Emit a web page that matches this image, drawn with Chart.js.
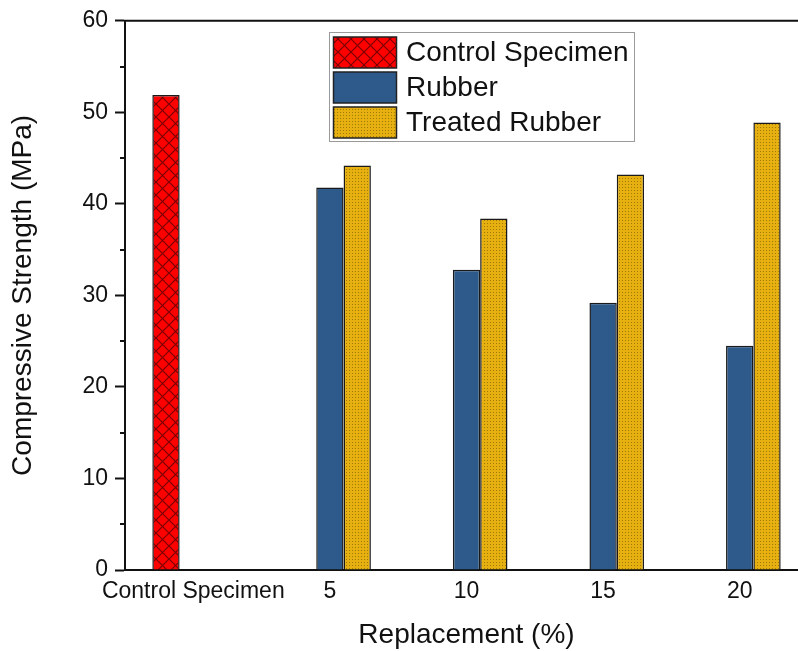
<!DOCTYPE html>
<html>
<head>
<meta charset="utf-8">
<script src="https://cdn.jsdelivr.net/npm/chart.js@4/dist/chart.umd.min.js"></script>
<style>
  html, body { margin: 0; padding: 0; background: #fff; overflow: hidden; }
  #wrap { position: relative; width: 812px; height: 651px; }
</style>
</head>
<body>
<div id="wrap"><canvas id="chart"></canvas></div>
<script>
// Compressive strength by rubber replacement level
const categories = ['Control Specimen', '5', '10', '15', '20'];
const controlStrength = [51.9, null, null, null, null];
const rubberStrength = [null, 41.8, 32.8, 29.2, 24.5];
const treatedStrength = [null, 44.2, 38.4, 43.2, 48.9];
const seriesLabels = ['Control Specimen', 'Rubber', 'Treated Rubber'];

const FONT = "'Liberation Sans', Arial, sans-serif";
const INK = '#111';

// Red fill with a diagonal cross-hatch
function crossHatch() {
  const s = 13;
  const c = document.createElement('canvas');
  c.width = s; c.height = s;
  const g = c.getContext('2d');
  g.fillStyle = '#ff0000';
  g.fillRect(0, 0, s, s);
  g.strokeStyle = '#7a0000';
  g.lineWidth = 1.2;
  g.beginPath();
  g.moveTo(0, 0); g.lineTo(s, s);
  g.moveTo(s, 0); g.lineTo(0, s);
  g.stroke();
  return g.createPattern(c, 'repeat');
}

// Gold fill with a fine dot texture
function dotTexture() {
  const c = document.createElement('canvas');
  c.width = 3; c.height = 3;
  const g = c.getContext('2d');
  g.fillStyle = '#e6b010';
  g.fillRect(0, 0, 3, 3);
  g.fillStyle = '#a07a08';
  g.fillRect(1, 1, 1, 1);
  return g.createPattern(c, 'repeat');
}

const fills = [crossHatch(), '#2d5a8b', dotTexture()];

// Short unlabeled ticks halfway between the labeled ones, plus the top frame line
const framePlugin = {
  id: 'frame',
  afterDraw(chart) {
    const { ctx, chartArea, scales } = chart;
    const y = scales.y;
    ctx.save();
    ctx.strokeStyle = INK;
    ctx.lineWidth = 2;
    ctx.beginPath();
    for (let v = y.min + 5; v < y.max; v += 10) {
      const py = Math.round(y.getPixelForValue(v));
      ctx.moveTo(chartArea.left - 5, py);
      ctx.lineTo(chartArea.left, py);
    }
    ctx.moveTo(chartArea.left - 1, chartArea.top);
    ctx.lineTo(chart.width, chartArea.top);
    ctx.stroke();
    ctx.restore();
  }
};

// Boxed legend inside the plot
const legendBoxPlugin = {
  id: 'legendBox',
  afterDraw(chart) {
    const { ctx } = chart;
    const box = { x: 329.5, y: 32.5, w: 305, h: 109 };
    ctx.save();
    ctx.fillStyle = '#fff';
    ctx.fillRect(box.x, box.y, box.w, box.h);
    ctx.strokeStyle = '#9a9a9a';
    ctx.lineWidth = 1;
    ctx.strokeRect(box.x, box.y, box.w, box.h);
    ctx.font = '28px ' + FONT;
    ctx.textBaseline = 'middle';
    ctx.textAlign = 'left';
    chart.data.datasets.forEach((ds, i) => {
      const sy = 37 + i * 35;
      ctx.fillStyle = ds.backgroundColor;
      ctx.fillRect(333.5, sy, 63, 31);
      ctx.strokeStyle = '#222';
      ctx.lineWidth = 1.5;
      ctx.strokeRect(333.5, sy, 63, 31);
      ctx.fillStyle = INK;
      ctx.fillText(ds.label, 406, sy + 16);
    });
    ctx.restore();
  }
};

new Chart(document.getElementById('chart'), {
  type: 'bar',
  data: {
    labels: categories,
    datasets: [
      { label: seriesLabels[0], data: controlStrength, backgroundColor: fills[0] },
      { label: seriesLabels[1], data: rubberStrength, backgroundColor: fills[1] },
      { label: seriesLabels[2], data: treatedStrength, backgroundColor: fills[2] }
    ]
  },
  options: {
    responsive: true,
    maintainAspectRatio: false,
    animation: false,
    devicePixelRatio: 1,
    layout: { padding: { top: 20, right: 4, bottom: 0, left: 0 } },
    datasets: {
      bar: {
        categoryPercentage: 0.6,
        barPercentage: 1.0,
        borderColor: '#1a1a1a',
        borderWidth: 1.5,
        borderSkipped: 'bottom'
      }
    },
    plugins: {
      legend: { display: false },
      tooltip: { enabled: false }
    },
    scales: {
      x: {
        offset: true,
        grid: { display: false, drawTicks: false },
        border: { display: true, color: INK, width: 2 },
        ticks: { color: INK, font: { family: FONT, size: 23 }, padding: 8, maxRotation: 0, autoSkip: false },
        title: {
          display: true,
          text: 'Replacement (%)',
          color: INK,
          font: { family: FONT, size: 28, lineHeight: 1 },
          padding: { top: 0, bottom: 2 }
        },
        afterFit(scale) { scale.height = 81; }
      },
      y: {
        min: 0,
        max: 60,
        grid: { display: true, drawOnChartArea: false, drawTicks: true, tickLength: 10, tickWidth: 2, tickColor: INK },
        border: { display: true, color: INK, width: 2 },
        ticks: { stepSize: 10, color: INK, font: { family: FONT, size: 23 }, padding: 7 },
        title: {
          display: true,
          text: 'Compressive Strength (MPa)',
          color: INK,
          font: { family: FONT, size: 28, lineHeight: 1 },
          padding: { top: 9, bottom: 0 }
        },
        afterFit(scale) { scale.width = 125; }
      }
    }
  },
  plugins: [framePlugin, legendBoxPlugin]
});
</script>
</body>
</html>
